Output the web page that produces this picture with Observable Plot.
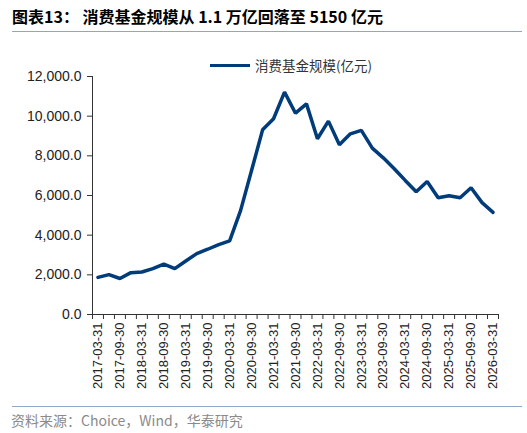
<!DOCTYPE html>
<html><head><meta charset="utf-8">
<script src="https://cdn.jsdelivr.net/npm/d3@7"></script>
<script src="https://cdn.jsdelivr.net/npm/@observablehq/plot@0.6"></script>
<style>
body{margin:0;width:527px;height:433px;position:relative;background:#fff;overflow:hidden;font-family:"Noto Sans CJK SC",sans-serif;}
#title{position:absolute;left:12px;top:4px;font-size:16px;font-weight:bold;color:#000;white-space:nowrap;}
#tline{position:absolute;left:12px;top:31px;width:510px;height:0;border-top:1.5px solid #8ea7c8;}
#bline{position:absolute;left:12px;top:406px;width:510px;height:0;border-top:1.5px solid #8ea7c8;}
#caption{position:absolute;left:11px;top:410px;font-size:14px;color:#8a8a8a;white-space:nowrap;}
#legend{position:absolute;left:210px;top:55px;display:flex;align-items:center;font-size:13.5px;color:#333;white-space:nowrap;}
#legend .sw{width:40px;height:0;border-top:3.5px solid #003b7a;margin-right:5px;}
#chart{position:absolute;left:0;top:0;}
</style></head>
<body>
<div id="chart"></div>
<div id="title">图表13： 消费基金规模从 1.1 万亿回落至 5150 亿元</div>
<div id="tline"></div>
<div id="legend"><div class="sw"></div><span>消费基金规模(亿元)</span></div>
<div id="bline"></div>
<div id="caption">资料来源：Choice，Wind，华泰研究</div>
<script>
const dates = [
"2017-03-31","2017-06-30","2017-09-30","2017-12-31",
"2018-03-31","2018-06-30","2018-09-30","2018-12-31",
"2019-03-31","2019-06-30","2019-09-30","2019-12-31",
"2020-03-31","2020-06-30","2020-09-30","2020-12-31",
"2021-03-31","2021-06-30","2021-09-30","2021-12-31",
"2022-03-31","2022-06-30","2022-09-30","2022-12-31",
"2023-03-31","2023-06-30","2023-09-30","2023-12-31",
"2024-03-31","2024-06-30","2024-09-30","2024-12-31",
"2025-03-31","2025-06-30","2025-09-30","2025-12-31",
"2026-03-31"];
const values = [
1870,2010,1815,2110,
2145,2315,2545,2315,
2700,3070,3290,3525,
3710,5250,7270,9310,
9870,11210,10150,10620,
8860,9750,8560,9110,
9280,8390,7900,7350,
6760,6190,6710,5890,
5990,5890,6390,5640,
5150];
const seriesName = "消费基金规模(亿元)";
const yTicks = [0,2000,4000,6000,8000,10000,12000];

const data = dates.map((d,i)=>({i, date:d, value:values[i]}));
const labelIdx = dates.map((d,i)=>i).filter(i=>i%2===0);
const boundaries = d3.range(-0.5, dates.length, 1);

const plot = Plot.plot({
  width:527, height:433,
  marginTop:76, marginBottom:119, marginLeft:92, marginRight:29,
  style:{fontFamily:"Arial, 'Liberation Sans', sans-serif", color:"#222", background:"transparent"},
  x:{type:"linear", domain:[-0.5, dates.length-0.5]},
  y:{domain:[0,12000]},
  marks:[
    Plot.axisY({ticks:yTicks, tickFormat:d3.format(",.1f"), tickSize:5, tickPadding:6, fontSize:14, label:null, stroke:"#333"}),
    Plot.axisX({ticks:boundaries, tickFormat:()=> "", tickSize:5, label:null, stroke:"#333"}),
    Plot.axisX({ticks:labelIdx, tickFormat:i=>dates[i], tickSize:0, tickPadding:8, tickRotate:-90, fontSize:13, label:null}),
    Plot.ruleX([-0.5], {stroke:"#333"}),
    Plot.ruleY([0], {stroke:"#333"}),
    Plot.line(data, {x:"i", y:"value", stroke:"#003b7a", strokeWidth:3.5, strokeLinejoin:"miter"})
  ]
});
document.getElementById("chart").appendChild(plot);
</script>
</body></html>
